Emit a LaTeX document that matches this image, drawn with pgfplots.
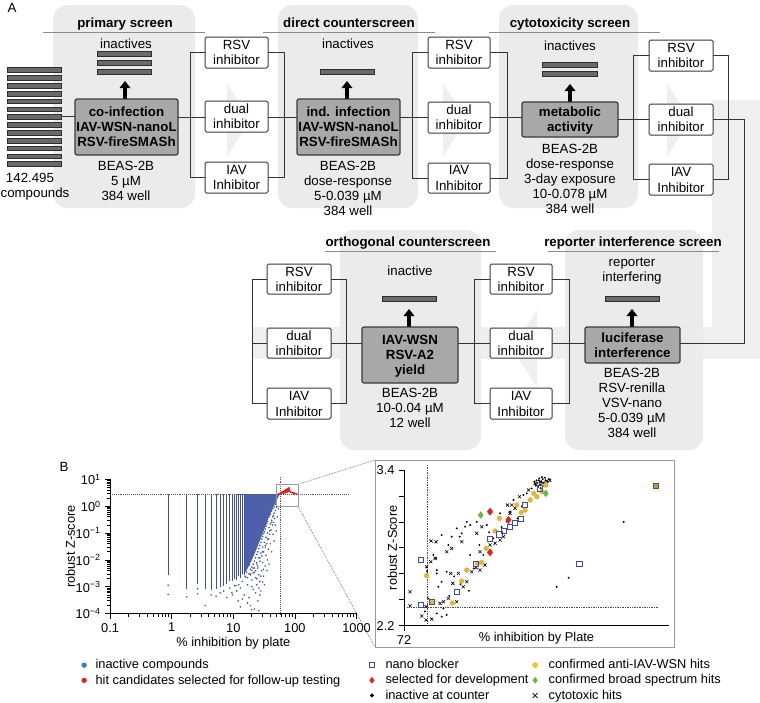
\documentclass[border=0pt]{standalone}
\usepackage{pgfplots}
\pgfplotsset{compat=1.18}
\usepackage{fontspec}
\setmainfont{Liberation Sans}
\definecolor{bgg}{HTML}{EBEBEB}
\definecolor{faint}{HTML}{EFEFEF}
\definecolor{boxg}{HTML}{A8A8A8}
\definecolor{boxd}{HTML}{3A3A3A}
\definecolor{barg}{HTML}{6A6A6A}
\definecolor{bard}{HTML}{2E2E2E}
\definecolor{lnc}{HTML}{333333}
\definecolor{ulg}{HTML}{8A8A8A}
\definecolor{sblue}{HTML}{3D52A1}
\definecolor{lblue}{HTML}{2D7EC4}
\definecolor{hred}{HTML}{E3201B}
\definecolor{nblue}{HTML}{3A4EA8}
\definecolor{cyel}{HTML}{E3B33B}
\definecolor{lyel}{HTML}{F2C21A}
\definecolor{cgreen}{HTML}{6CB33F}
\definecolor{frameg}{HTML}{9A9A9A}
\newcommand{\tl}[3]{\node[inner sep=0pt,anchor=base,font=\fontsize{13.3}{15}\selectfont] at (#1,#2+4.6) {#3};}
\newcommand{\tlb}[3]{\node[inner sep=0pt,anchor=base,font=\fontsize{13.3}{15}\selectfont\bfseries] at (#1,#2+4.6) {#3};}
\newcommand{\mainbx}[4]{\draw[fill=boxg,draw=boxd,line width=1.2pt,rounded corners=2pt] (#1,#2) rectangle (#3,#4);}
\newcommand{\smallbx}[4]{\draw[fill=white,draw=boxd,line width=1pt,rounded corners=1.5pt] (#1,#2) rectangle (#3,#4);}
\newcommand{\cbar}[3]{\draw[fill=barg,draw=bard,line width=0.6pt] (#1,#3-2.3) rectangle (#2,#3+2.3);}
\newcommand{\uparr}[3]{\fill[black] (#1-1.8,#2) -- (#1-1.8,#3+7) -- (#1-5.5,#3+7) -- (#1,#3) -- (#1+5.5,#3+7) -- (#1+1.8,#3+7) -- (#1+1.8,#2) -- cycle;}
\newcommand{\legtxt}[1]{\hspace*{7pt}#1}
\begin{document}
\fontsize{12.8}{15}\selectfont
\begin{tikzpicture}[font=\fontsize{12.8}{15}\selectfont]
\useasboundingbox (0pt,0pt) rectangle (760pt,-702pt);
\begin{scope}[x=1pt,y=-1pt,ln/.style={draw=lnc,line width=1pt},ul/.style={draw=ulg,line width=1pt}]
% faint background shapes
\fill[faint] (712,100) rectangle (760,359);
\fill[faint] (252,327) rectangle (760,359);
\fill[faint] (227,83) -- (250,120) -- (227,157) -- cycle;
\fill[faint] (443,83) -- (466,120) -- (443,157) -- cycle;
\fill[faint] (667,83) -- (690,120) -- (667,157) -- cycle;
\fill[faint] (537,310) -- (512,348) -- (537,387) -- cycle;
% screen backgrounds
\fill[bgg, rounded corners=14pt] (53,5) rectangle (195,208);
\fill[bgg, rounded corners=14pt] (278,5) rectangle (418,208);
\fill[bgg, rounded corners=14pt] (499,5) rectangle (638,208);
\fill[bgg, rounded corners=14pt] (340,230) rectangle (481,450);
\fill[bgg, rounded corners=14pt] (565,230) rectangle (703,450);
\tl{12}{8}{A}
% ---- primary screen
\tlb{125}{23}{primary screen}
\draw[ul] (43,32)--(205,32);
\tl{126}{44}{inactives}
\cbar{97}{151}{54}\cbar{97}{151}{63}\cbar{97}{151}{72}
\uparr{125}{99}{81}
\foreach \yy in {70,77.8,85.7,93.5,101.3,109.2,117,124.8,132.7,140.5,148.3,156.2,164}{\cbar{7}{61}{\yy}}
\draw[ln] (61,116)--(75,116);
\tl{30}{178}{142.495}
\tl{35}{193}{compounds}
\draw[ln] (178,117)--(205,117);
\draw[ln] (205,52.5) -| (190,177.5) -- (205,177.5);
\draw[ln] (268,52.5) -| (284,177.5) -- (268,177.5);
\draw[ln] (268,117)--(297,117);
\mainbx{75}{99}{178}{155}
\tlb{126.5}{112}{co-infection}
\tlb{126.5}{127}{IAV-WSN-nanoL}
\tlb{126.5}{142}{RSV-fireSMASh}
\tl{126}{166}{BEAS-2B}
\tl{126}{181}{5 µM}
\tl{126}{196}{384 well}
\smallbx{205}{37}{268}{68}\smallbx{205}{101}{268}{132}\smallbx{205}{162}{268}{193}
\tl{236.5}{45}{RSV}\tl{236.5}{60}{inhibitor}
\tl{236.5}{109}{dual}\tl{236.5}{124}{inhibitor}
\tl{236.5}{170}{IAV}\tl{236.5}{185}{Inhibitor}
% ---- direct counterscreen
\tlb{349}{23}{direct counterscreen}
\draw[ul] (263,32)--(435,32);
\tl{348}{44}{inactives}
\cbar{320}{374}{72}
\uparr{347}{99}{81}
\mainbx{297}{99}{400}{155}
\tlb{348.5}{112}{ind. infection}
\tlb{348.5}{127}{IAV-WSN-nanoL}
\tlb{348.5}{142}{RSV-fireSMASh}
\tl{348}{166}{BEAS-2B}
\tl{348}{181}{dose-response}
\tl{348}{196}{5-0.039 µM}
\tl{348}{211}{384 well}
\draw[ln] (400,117)--(428,117);
\draw[ln] (428,52.5) -| (412,178) -- (428,178);
\draw[ln] (490,52.5) -| (507,178) -- (490,178);
\draw[ln] (490,117)--(522,117);
\smallbx{428}{37}{490}{68}\smallbx{428}{102}{490}{133}\smallbx{428}{163}{490}{193}
\tl{459}{45}{RSV}\tl{459}{60}{inhibitor}
\tl{459}{110}{dual}\tl{459}{125}{inhibitor}
\tl{459}{170}{IAV}\tl{459}{186}{Inhibitor}
% ---- cytotoxicity screen
\tlb{570}{23}{cytotoxicity screen}
\draw[ul] (489,32)--(660,32);
\tl{570}{46}{inactives}
\cbar{542}{597}{65}\cbar{542}{597}{74}
\uparr{570}{102}{84}
\mainbx{522}{102}{618}{137}
\tlb{570}{112}{metabolic}
\tlb{570}{127}{activity}
\tl{570}{148.5}{BEAS-2B}
\tl{570}{163.5}{dose-response}
\tl{570}{178.5}{3-day exposure}
\tl{570}{193.5}{10-0.078 µM}
\tl{570}{208.5}{384 well}
\draw[ln] (618,119.5)--(649,119.5);
\draw[ln] (649,55.5) -| (633,179.5) -- (649,179.5);
\draw[ln] (713,55.5) -| (728,179.5) -- (713,179.5);
\draw[ln] (713,119.5) -| (744,343) -- (680,343);
\smallbx{649}{40}{713}{71}\smallbx{649}{104}{713}{135}\smallbx{649}{164}{713}{195}
\tl{681}{48}{RSV}\tl{681}{63}{inhibitor}
\tl{681}{112}{dual}\tl{681}{127}{inhibitor}
\tl{681}{172}{IAV}\tl{681}{188}{Inhibitor}
% ---- reporter interference screen
\tlb{633}{242}{reporter interference screen}
\draw[ul] (548,251.5)--(719,251.5);
\tl{632}{262}{reporter}
\tl{632}{277}{interfering}
\cbar{605}{659}{299}
\uparr{632}{327}{309}
\mainbx{585}{327}{680}{363}
\tlb{632.5}{337.5}{luciferase}
\tlb{632.5}{353}{interference}
\tl{632}{373}{BEAS-2B}
\tl{632}{388}{RSV-renilla}
\tl{632}{403}{VSV-nano}
\tl{632}{418}{5-0.039 µM}
\tl{632}{433}{384 well}
% middle group
\draw[ln] (458,343)--(490,343);
\draw[ln] (490,279) -| (474,403) -- (490,403);
\draw[ln] (552,279) -| (569,403) -- (552,403);
\draw[ln] (552,343)--(585,343);
\smallbx{490}{264}{552}{294}\smallbx{490}{328}{552}{358}\smallbx{490}{388}{552}{419}
\tl{521}{272}{RSV}\tl{521}{287}{inhibitor}
\tl{521}{336}{dual}\tl{521}{351}{inhibitor}
\tl{521}{396}{IAV}\tl{521}{412}{Inhibitor}
% ---- orthogonal counterscreen
\tlb{408}{242}{orthogonal counterscreen}
\draw[ul] (325,251.5)--(496,251.5);
\tl{410}{271}{inactive}
\cbar{382}{436}{299}
\uparr{409}{327}{309}
\mainbx{362}{327}{458}{383}
\tlb{410}{340}{IAV-WSN}
\tlb{410}{355}{RSV-A2}
\tlb{410}{370}{yield}
\tl{410}{393}{BEAS-2B}
\tl{410}{408}{10-0.04 µM}
\tl{410}{423}{12 well}
% left group
\draw[ln] (267,279) -| (252,403) -- (267,403);
\draw[ln] (252,343)--(267,343);
\draw[ln] (331,279) -| (346,403) -- (331,403);
\draw[ln] (331,343)--(362,343);
\smallbx{267}{264}{331}{294}\smallbx{267}{328}{331}{358}\smallbx{267}{388}{331}{419}
\tl{299}{272}{RSV}\tl{299}{287}{inhibitor}
\tl{299}{336}{dual}\tl{299}{351}{inhibitor}
\tl{299}{396}{IAV}\tl{299}{412}{Inhibitor}
% ---- panel B decorations
\tl{64}{467}{B}
\draw[frameg,line width=0.8pt] (375,460) rectangle (674,647);
\draw[densely dotted,black!60,line width=0.7pt] (298.3,484.3)--(375,460);
\draw[densely dotted,black!60,line width=0.7pt] (298.3,506.7)--(375,647);
\end{scope}
% ================= main scatter plot
\begin{axis}[at={(110.1pt,-613.7pt)}, anchor=south west, scale only axis,
  width=246.4pt, height=134.4pt, xmode=log, ymode=log,
  xmin=0.1, xmax=1000, ymin=1e-4, ymax=10, clip=false,
  axis x line*=bottom, axis y line*=left,
  axis line style={line width=0.8pt,black},
  tick style={line width=0.8pt,black}, tick align=outside, major tick length=5pt,
  xtick={0.1,1,10,100,1000}, xticklabels={0.1,1,10,100,1000},
  ytick={1e-4,1e-3,1e-2,1e-1,1,10},
  yticklabels={10\textsuperscript{−4},10\textsuperscript{−3},10\textsuperscript{−2},10\textsuperscript{−1},10\textsuperscript{0},10\textsuperscript{1}},
  minor xtick={}, minor ytick={},
  tick label style={font=\fontsize{12.8}{15}\selectfont},
  label style={font=\fontsize{12.8}{15}\selectfont},
  xlabel={\% inhibition by plate}, ylabel={robust Z-score},
  xlabel style={yshift=4pt}, ylabel style={yshift=-8pt},
  legend style={at={(-0.128,-0.31)}, anchor=north west, draw=none, fill=none,
    font=\fontsize{12.8}{15}\selectfont, row sep=0pt, cells={anchor=west}},
]
\addlegendimage{only marks, mark=*, mark size=2.4pt, color=lblue}
\addlegendentry{\legtxt{inactive compounds}}
\addlegendimage{only marks, mark=*, mark size=2.4pt, color=hred}
\addlegendentry{\legtxt{hit candidates selected for follow-up testing}}
% streaks at discrete % inhibition values
\addplot[sblue, line width=0.9pt, forget plot] coordinates {(0.875,2.83) (0.875,0.0027)};
\addplot[sblue, line width=0.9pt, forget plot] coordinates {(1.75,2.83) (1.75,0.00085)};
\addplot[sblue, line width=0.9pt, forget plot] coordinates {(2.625,2.83) (2.625,0.0013)};
\addplot[sblue, line width=0.9pt, forget plot] coordinates {(3.5,2.83) (3.5,0.00085)};
\addplot[sblue, line width=0.9pt, forget plot] coordinates {(4.375,2.83) (4.375,0.00074)};
\addplot[sblue, line width=0.9pt, forget plot] coordinates {(5.25,2.83) (5.25,0.00085)};
\addplot[sblue, line width=0.9pt, forget plot] coordinates {(6.125,2.83) (6.125,0.001)};
\addplot[sblue, line width=0.9pt, forget plot] coordinates {(7.0,2.83) (7.0,0.0011)};
\addplot[sblue, line width=0.9pt, forget plot] coordinates {(7.875,2.83) (7.875,0.00125)};
\addplot[sblue, line width=0.9pt, forget plot] coordinates {(8.75,2.83) (8.75,0.0017)};
\addplot[sblue, line width=0.8pt, forget plot] coordinates {(9.625,2.83) (9.625,0.0016)};
\addplot[sblue, line width=0.8pt, forget plot] coordinates {(10.5,2.83) (10.5,0.002)};
\addplot[sblue, line width=0.8pt, forget plot] coordinates {(11.375,2.83) (11.375,0.0018)};
\addplot[sblue, line width=0.8pt, forget plot] coordinates {(12.25,2.83) (12.25,0.0025)};
\addplot[sblue, line width=0.8pt, forget plot] coordinates {(13.125,2.83) (13.125,0.0022)};
\addplot[sblue, line width=0.8pt, forget plot] coordinates {(14.0,2.83) (14.0,0.003)};
\addplot[sblue, line width=0.8pt, forget plot] coordinates {(14.875,2.83) (14.875,0.0028)};
\addplot[sblue, line width=0.8pt, forget plot] coordinates {(15.75,2.83) (15.75,0.0035)};
% dense region
\addplot[fill=sblue!92, draw=none, forget plot] coordinates {(15.5,2.83) (55,2.83) (57,3.2) (58.5,2.9) (55.8,2.6) (50.7,1.69) (43.6,0.83) (37,0.35) (31.5,0.128) (27.1,0.054) (23.4,0.023) (19.9,0.0098) (16.5,0.0041) (15.5,0.0041)} -- cycle;
% scattered points
\addplot[only marks, mark=*, mark size=0.55pt, sblue, forget plot] coordinates {
(0.875,0.00115) (0.875,0.00052) (1.75,0.00042) (2.625,0.00085) (2.625,0.00055) (3.5,0.0002) (4.375,0.0005) (5.25,0.00045) (6.125,0.0006) (7.0,0.0007) (7.875,0.0004) (8.75,0.0009) (9.625,0.0005) (10.5,0.0011) (11.375,0.0007) (12.25,0.0012)
(18,0.003) (19,0.0045) (20,0.0055) (21,0.007) (22,0.009) (23,0.012) (24,0.016) (25,0.02) (26,0.027) (27,0.035) (28,0.045) (29,0.06) (30,0.075) (31,0.095) (32,0.11) (33,0.14) (34,0.18) (35,0.22) (36,0.27) (38,0.4) (40,0.5) (42,0.65) (44,0.8) (46,0.95) (48,1.2)
(20,0.004) (22,0.005) (24,0.008) (26,0.012) (28,0.018) (30,0.03) (32,0.045) (34,0.07) (36,0.1) (38,0.16) (40,0.22) (42,0.3) (44,0.4) (46,0.55) (48,0.7) (50,0.9)
(17,0.0022) (19,0.0028) (21,0.0033) (23,0.004) (25,0.006) (27,0.009) (29,0.014) (31,0.02) (33,0.03) (35,0.04) (37,0.06) (39,0.09) (41,0.13) (43,0.2) (45,0.25) (47,0.35)
(9.5,0.0006) (11,0.0011) (12,0.0003) (13,0.0009) (14,0.0016) (15,0.0005) (16,0.0023) (17,0.0012) (18,0.0004) (19,0.003) (20,0.0018) (21,0.0008) (22,0.0035) (23,0.0022) (24,0.0012) (25,0.005) (26,0.0028) (27,0.0016) (28,0.0007) (29,0.004) (30,0.008) (31,0.0025) (32,0.0012) (33,0.006) (34,0.015) (35,0.004) (36,0.01) (37,0.025) (38,0.007) (40,0.04) (42,0.02) (44,0.09) (46,0.05) (48,0.2) (50,0.12) (52,0.4) (54,0.8)
(19,0.0002) (22,0.00015) (25,0.0003) (27,0.0005) (17,0.00025) (14,0.00035) (20,0.001) (23,0.0006) (26,0.0009) (30,0.0015) (24,0.002) (18,0.0065) (21,0.005) (24,0.007) (27,0.012) (30,0.02) (33,0.035) (36,0.06) (39,0.12) (42,0.25) (45,0.45) (15.5,0.0025) (16.5,0.0035) (28,0.0025) (31,0.0045) (13,0.00018) (20,0.00014) (26,0.00013)
};
% hit candidates
\addplot[only marks, mark=*, mark size=0.8pt, hred, forget plot] coordinates {
(55,2.9) (58,3.0) (60,3.2) (62,3.3) (65,3.5) (68,3.7) (70,3.9) (72,4.1) (75,4.3) (78,4.5) (80,4.7) (60,2.9) (65,3.1) (70,3.3) (75,3.4) (80,3.6) (85,3.4) (90,3.2) (95,3.1) (100,3.0) (108,2.8) (66,3.0) (72,3.6) (76,3.9) (82,4.0) (63,3.4) (68,3.4) (74,3.8) (70,3.6) (78,4.1)
};
% thresholds
\addplot[densely dotted, black!65, line width=0.9pt, forget plot] coordinates {(0.1,2.83) (728,2.83)};
\addplot[densely dotted, black!65, line width=0.9pt, forget plot] coordinates {(58.8,12.5) (58.8,1e-4)};
\draw[frameg, line width=0.8pt] (axis cs:49.3,6.69) rectangle (axis cs:113.5,1.01);
\end{axis}
% ================= inset
\begin{axis}[at={(404pt,-625.7pt)}, anchor=south west, scale only axis,
  width=265pt, height=155.7pt,
  xmin=72, xmax=110, ymin=2.2, ymax=3.4, clip=false,
  axis x line*=bottom, axis y line*=left,
  axis line style={line width=0.8pt,black},
  tick style={line width=0.8pt,black}, tick align=outside, major tick length=5pt,
  xtick={72}, xticklabels={72},
  ytick={2.2,2.4,2.6,2.8,3.0,3.2,3.4}, yticklabels={2.2,,,,,,3.4},
  tick label style={font=\fontsize{12.8}{15}\selectfont},
  label style={font=\fontsize{12.8}{15}\selectfont},
  xlabel={\% inhibition by Plate}, ylabel={robust Z-Score},
  xlabel style={yshift=21pt}, ylabel style={yshift=-29pt},
  legend columns=2,
  legend style={at={(-0.143,-0.19)}, anchor=north west, draw=none, fill=none,
    font=\fontsize{12.8}{15}\selectfont, row sep=0pt, column sep=2pt, cells={anchor=west}},
]
\addlegendimage{only marks, mark=square, mark size=2.6pt, color=nblue, line width=0.9pt}
\addlegendentry{\legtxt{nano blocker}}
\addlegendimage{only marks, mark=*, mark size=2.6pt, color=lyel}
\addlegendentry{\legtxt{confirmed anti-IAV-WSN hits}}
\addlegendimage{only marks, mark=diamond*, mark size=3pt, color=hred}
\addlegendentry{\legtxt{selected for development}}
\addlegendimage{only marks, mark=diamond*, mark size=3pt, color=cgreen}
\addlegendentry{\legtxt{confirmed broad spectrum hits}}
\addlegendimage{only marks, mark=*, mark size=1.8pt, color=black}
\addlegendentry{\legtxt{inactive at counter}}
\addlegendimage{only marks, mark=x, mark size=3.5pt, color=black, line width=0.8pt}
\addlegendentry{\legtxt{cytotoxic hits}}
% thresholds
\addplot[densely dotted, black!70, line width=0.7pt, forget plot] coordinates {(75.3,3.44) (75.3,2.2)};
\addplot[densely dotted, black!70, line width=0.7pt, forget plot] coordinates {(72.5,2.342) (108.4,2.342)};
% inactive at counter
\addplot[only marks, mark=*, mark size=0.75pt, black, forget plot] coordinates {
(103.5,3.0) (95.6,2.57) (93.9,2.5) (76.7,2.629) (76.7,2.603) (77.4,2.539) (78.12,2.616) (81.0,3.0) (81.5,2.976) (79.56,2.95) (80.28,2.912) (77.4,2.899) (78.84,2.886) (83.87,2.976) (76.7,2.295) (77.4,2.27) (78.12,2.283) (77.65,2.334) (76.93,2.5) (82.0,2.642) (85.78,3.066) (83.39,2.745) (86.74,3.002) (87.7,3.169) (89.13,3.207) (89.6,3.22) (90.3,3.258) (82.43,3.0) (80.76,2.963) (79.99,2.886) (78.36,2.822) (76.21,2.745) (81.47,2.745) (75.0,2.31) (75.5,2.41) (82.8,2.822) (84.8,2.873) (88.27,3.027) (75.3,2.65) (75.3,2.62) (75.3,2.6) (76.6,2.72) (79.2,2.58) (80.1,2.52) (81.3,2.47) (78.5,2.43) (84.2,2.92) (86.0,2.96) (87.2,3.08) (88.9,3.12)
(90.9,3.28) (91.1,3.30) (91.3,3.32) (91.5,3.29) (91.7,3.31) (91.9,3.33) (92.1,3.30) (92.3,3.32) (92.6,3.31) (91.2,3.27) (91.6,3.26) (92.0,3.28) (92.4,3.29) (90.7,3.31) (91.4,3.335) (92.8,3.33) (91.0,3.32) (91.8,3.345) (92.2,3.34) (90.8,3.29) (91.5,3.31) (92.5,3.275)
};
% cytotoxic hits
\addplot[only marks, mark=x, mark size=2.2pt, black, line width=0.6pt, forget plot] coordinates {
(72.86,2.462) (72.86,2.354) (75.16,2.347) (75.16,2.244) (75.97,2.251) (74.54,2.275) (75.88,2.853) (76.6,2.847) (78.12,2.77) (78.84,2.796) (80.28,2.847) (82.43,2.912) (83.15,2.963) (78.7,2.603) (78.99,2.526) (79.8,2.603) (80.5,2.5) (81.0,2.539) (81.71,2.616) (82.33,2.647) (82.9,2.629) (83.6,2.668) (84.34,2.822) (85.06,2.835) (85.78,2.86) (86.26,2.886) (86.83,3.13) (87.45,3.13) (88.56,3.194) (89.85,3.246) (90.8,3.297) (91.52,3.31) (92.47,3.315) (77.65,2.385) (78.36,2.411) (77.17,2.372) (76.45,2.719) (75.83,2.693) (75.25,2.655) (82.9,2.77) (79.56,2.385) (87.2,3.066) (87.93,3.105) (91.9,3.3) (92.9,3.32)
};
% confirmed anti-IAV-WSN hits
\addplot[only marks, mark=*, mark size=2.4pt, cyel, forget plot] coordinates {
(75.25,2.585) (78.94,2.375) (80.28,2.544) (81.0,2.629) (82.53,2.68) (83.15,2.688) (83.77,2.796) (85.06,2.93) (85.68,3.027) (88.17,3.13) (88.8,3.073) (89.37,3.091) (90.1,3.169) (90.6,3.22) (91.04,3.194) (91.76,3.233) (92.33,3.284) (76.0,2.38)
};
% nano blocker
\addplot[only marks, mark=square*, mark size=2.6pt, draw=nblue, fill=cyel!85!black, line width=0.9pt, forget plot] coordinates {(108.1,3.279)};
\addplot[only marks, mark=square, mark size=2.6pt, nblue, line width=0.9pt, forget plot] coordinates {
(74.39,2.706) (74.39,2.36) (75.97,2.385) (79.56,2.462) (82.33,2.673) (84.34,2.866) (85.68,2.904) (86.35,2.93) (87.2,2.963) (87.93,2.989) (88.75,3.02) (89.37,3.13) (91.52,3.258) (97.17,2.673)
};
% selected for development
\addplot[only marks, mark=diamond*, mark size=3.6pt, hred, forget plot] coordinates {
(84.34,3.079) (86.98,3.015) (84.34,2.765)
};
% broad spectrum
\addplot[only marks, mark=diamond*, mark size=3.4pt, cgreen, forget plot] coordinates {
(83.0,3.053) (92.33,3.22)
};
\end{axis}
\end{tikzpicture}
\end{document}
